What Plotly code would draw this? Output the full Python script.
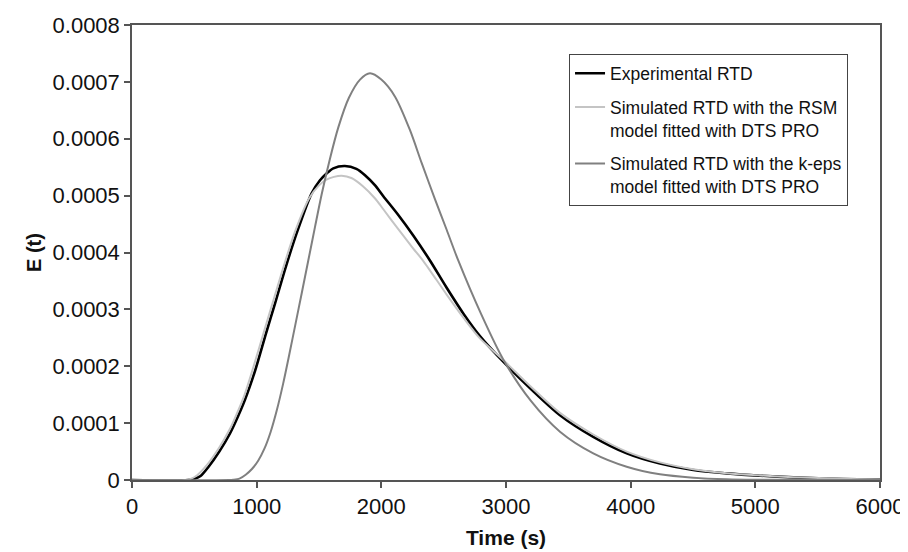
import plotly.graph_objects as go

# ---- data ----
exp_t = [0, 450, 500, 550, 610, 700, 786, 830, 906, 987, 1075, 1147, 1227, 1321, 1441, 1508,
         1561, 1615, 1708, 1800, 1869, 1950, 2016, 2136, 2256, 2390, 2524, 2660, 2791, 2978,
         3200, 3433, 3700, 3968, 4235, 4502, 4770, 5037, 5305, 5706, 6000]
exp_e = [0, 0, 0.000002, 0.000007, 0.000022, 0.00005, 0.000082, 0.000102, 0.000141, 0.000192,
         0.000258, 0.00031, 0.00037, 0.000434, 0.000504, 0.000527, 0.000539, 0.000548, 0.000552,
         0.000547, 0.000536, 0.000518, 0.000499, 0.000466, 0.00043, 0.000386, 0.000338, 0.000292,
         0.000253, 0.000208, 0.00016, 0.000114, 0.000076, 0.000047, 0.000029, 0.0000176,
         0.0000117, 0.0000076, 0.0000047, 0.0000018, 0.000001]

rsm_t = [0, 420, 470, 520, 600, 700, 786, 830, 900, 980, 1060, 1140, 1220, 1310, 1420, 1500,
         1560, 1620, 1682, 1760, 1850, 1950, 2016, 2136, 2256, 2337, 2524, 2660, 2791, 2978,
         3200, 3433, 3700, 3968, 4235, 4502, 4770, 5037, 5305, 5706, 6000]
rsm_e = [0, 0, 0.000002, 0.000008, 0.000026, 0.000057, 0.00009, 0.000111, 0.000148, 0.000203,
         0.000262, 0.00032, 0.000378, 0.000438, 0.000495, 0.000518, 0.000528, 0.000533, 0.000535,
         0.000531, 0.000517, 0.000495, 0.000476, 0.000441, 0.000407, 0.000385, 0.000326, 0.000285,
         0.000249, 0.000211, 0.000164, 0.000118, 0.00008, 0.00005, 0.000031, 0.000019, 0.000012,
         0.000008, 0.000005, 0.000002, 0.000001]

keps_t = [0, 780, 812, 862, 912, 962, 1012, 1062, 1112, 1162, 1212, 1262, 1312, 1361, 1414,
          1468, 1521, 1588, 1655, 1740, 1829, 1909, 2000, 2110, 2230, 2324, 2430, 2524, 2617,
          2800, 2978, 3200, 3433, 3700, 3968, 4235, 4502, 4770, 5000, 6000]
keps_e = [0, 0, 0.0000005, 0.0000025, 0.0000093, 0.0000193, 0.0000338, 0.000055, 0.0000845,
          0.000123, 0.000169, 0.000221, 0.000275, 0.000328, 0.000386, 0.000445, 0.000502,
          0.000565, 0.00062, 0.000672, 0.000704, 0.000715, 0.000704, 0.000674, 0.000615,
          0.000557, 0.000494, 0.00044, 0.000386, 0.000292, 0.000212, 0.000139, 0.000085,
          0.0000469, 0.0000234, 0.00001, 0.0000041, 0.0000012, 0.0000003, 0]

y_tick_vals = [0, 0.0001, 0.0002, 0.0003, 0.0004, 0.0005, 0.0006, 0.0007, 0.0008]
y_tick_text = ["0", "0.0001", "0.0002", "0.0003", "0.0004", "0.0005", "0.0006", "0.0007", "0.0008"]
x_tick_vals = [0, 1000, 2000, 3000, 4000, 5000, 6000]
x_tick_text = ["0", "1000", "2000", "3000", "4000", "5000", "6000"]

names = ["Experimental RTD",
         "Simulated RTD with the RSM<br>model fitted with DTS PRO",
         "Simulated RTD with the k-eps<br>model fitted with DTS PRO"]

FONT = "Liberation Sans, Arial, sans-serif"

fig = go.Figure()
fig.add_trace(go.Scatter(x=exp_t, y=exp_e, mode="lines", name=names[0], legendgroup="a",
                         line=dict(color="#000000", width=2.6, shape="spline", smoothing=0.8)))
fig.add_trace(go.Scatter(x=rsm_t, y=rsm_e, mode="lines", name=names[1], legendgroup="b",
                         line=dict(color="#c4c4c4", width=2, shape="spline", smoothing=0.8)))
fig.add_trace(go.Scatter(x=keps_t, y=keps_e, mode="lines", name=names[2], legendgroup="c",
                         line=dict(color="#808080", width=2, shape="spline", smoothing=0.8)))

axis_common = dict(showgrid=False, zeroline=False, showline=True, mirror=True, automargin=False,
                   linecolor="#555555", linewidth=1.5, ticks="outside", ticklen=6,
                   tickcolor="#555555", tickwidth=1.5,
                   tickfont=dict(family=FONT, size=22, color="#111111"))

# page body has an 8px margin: figure is 900x544 placed at (8, 8)
fig.update_layout(
    width=900, height=544,
    margin=dict(l=124, r=28, t=17, b=72, autoexpand=False),
    paper_bgcolor="white", plot_bgcolor="white",
    font=dict(family=FONT, color="#111111"),
    xaxis=dict(range=[0, 6000], tickvals=x_tick_vals, ticktext=x_tick_text,
               title=dict(text="<b>Time (s)</b>", font=dict(family=FONT, size=21), standoff=12),
               **axis_common),
    yaxis=dict(range=[0, 0.0008], tickvals=y_tick_vals, ticktext=y_tick_text,
               title=dict(text="<b>E (t)</b>", font=dict(family=FONT, size=20), standoff=6),
               **axis_common),
    legend=dict(x=0.584, y=0.936, xanchor="left", yanchor="top",
                bgcolor="white", bordercolor="#444444", borderwidth=1.2,
                font=dict(family=FONT, size=17.5, color="#111111"),
                traceorder="grouped", tracegroupgap=8, valign="top"),
    showlegend=True,
)

fig.write_html("out.html")
